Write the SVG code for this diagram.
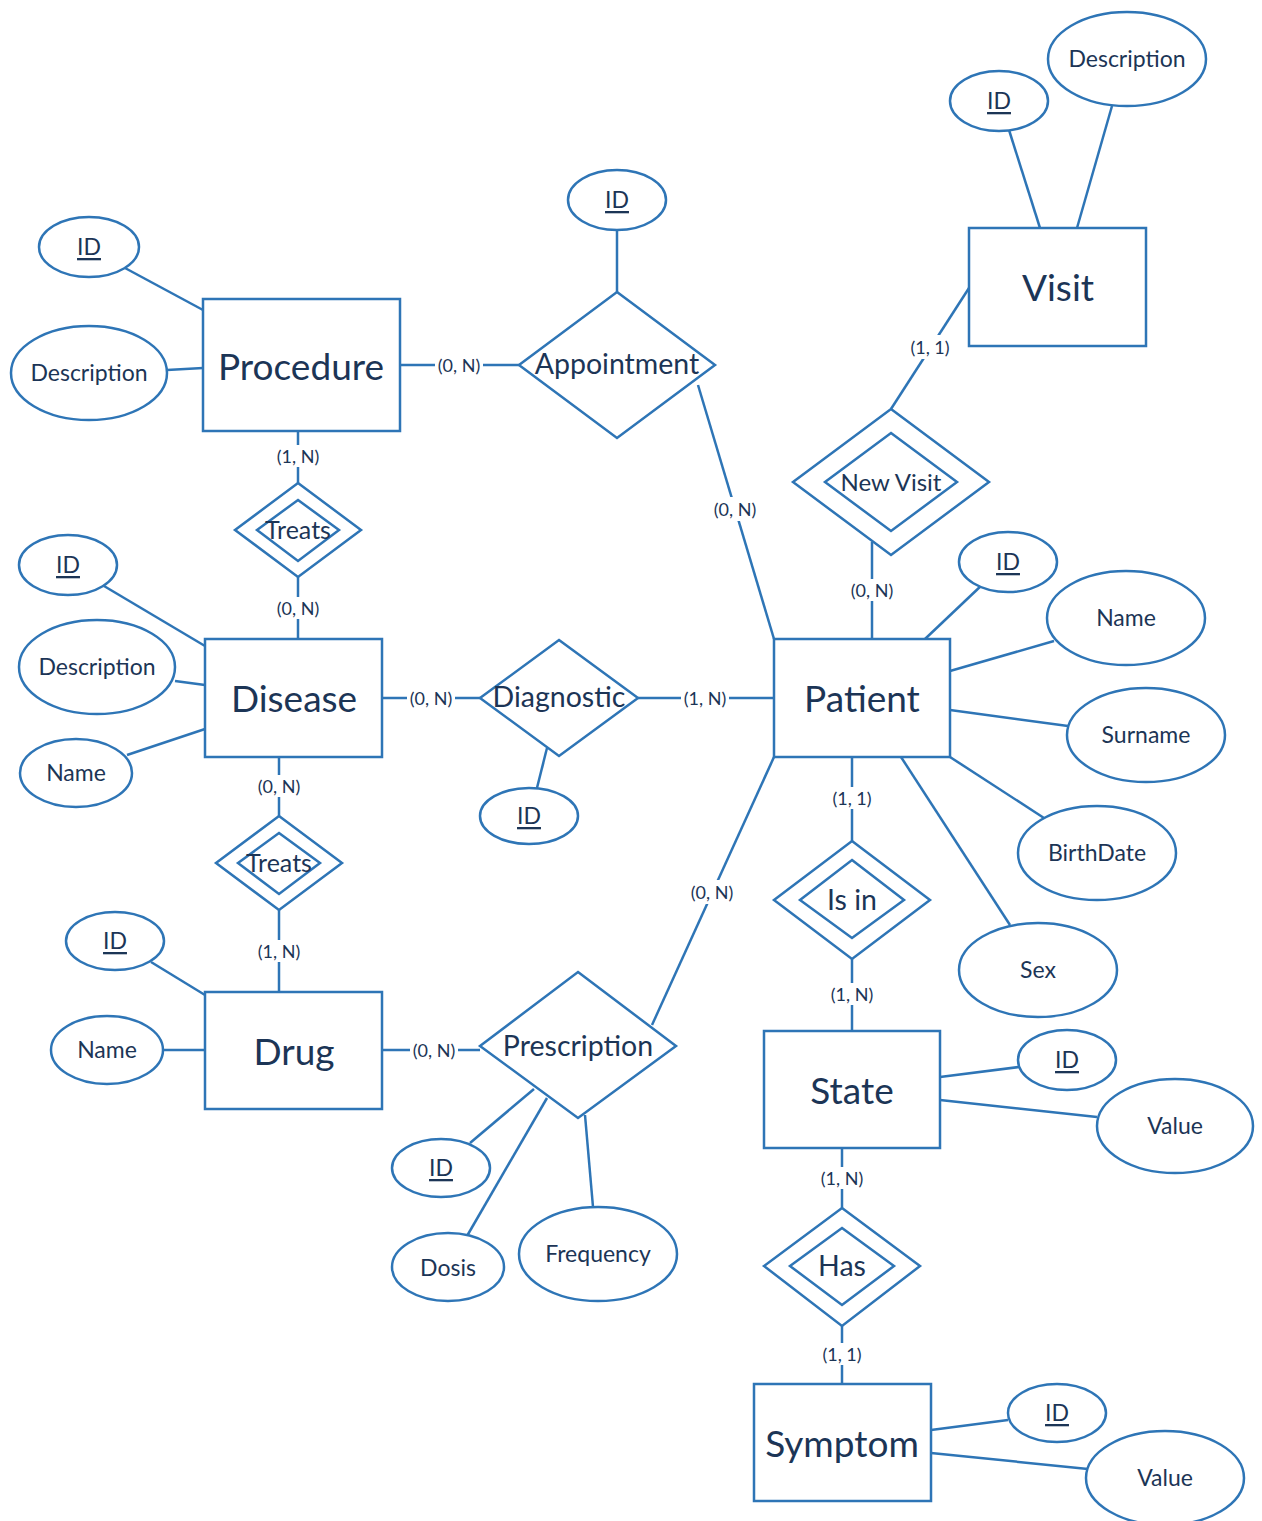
<svg xmlns="http://www.w3.org/2000/svg" width="1262" height="1521" viewBox="0 0 1262 1521">
<style>
.s{fill:#fff;stroke:#2E75B6;stroke-width:2.5}
.n{fill:none;stroke:#2E75B6;stroke-width:2.5}
.c line{stroke:#2E75B6;stroke-width:2.5}
text{font-family:Lato,"Open Sans","Liberation Sans",sans-serif;fill:#1C3556;text-anchor:middle;dominant-baseline:central}
.e{font-size:37px}
.r{font-size:28.5px}
.a{font-size:23px}
.t{font-size:25px}
.u{text-decoration:underline}
.l{font-size:18px}
.bg{fill:#fff}
</style>
<rect width="1262" height="1521" fill="#fff"/>
<g id="connectors" class="c">
<line x1="400" y1="365" x2="519" y2="365"/>
<line x1="698" y1="385" x2="774" y2="639"/>
<line x1="298" y1="431" x2="298" y2="483"/>
<line x1="298" y1="577" x2="298" y2="639"/>
<line x1="382" y1="698" x2="480" y2="698"/>
<line x1="638" y1="698" x2="774" y2="698"/>
<line x1="279" y1="757" x2="279" y2="816"/>
<line x1="279" y1="910" x2="279" y2="992"/>
<line x1="382" y1="1050" x2="480" y2="1050"/>
<line x1="652" y1="1025" x2="774" y2="757"/>
<line x1="969" y1="288" x2="891" y2="409"/>
<line x1="872" y1="542" x2="872" y2="639"/>
<line x1="852" y1="757" x2="852" y2="841"/>
<line x1="852" y1="959" x2="852" y2="1031"/>
<line x1="842" y1="1148" x2="842" y2="1208"/>
<line x1="842" y1="1326" x2="842" y2="1384"/>
<line x1="125" y1="268" x2="203" y2="310"/>
<line x1="167" y1="370" x2="203" y2="368"/>
<line x1="617" y1="230" x2="617" y2="292"/>
<line x1="1009" y1="130" x2="1040" y2="228"/>
<line x1="1112" y1="106" x2="1077" y2="228"/>
<line x1="104" y1="586" x2="205" y2="646"/>
<line x1="175" y1="681" x2="205" y2="685"/>
<line x1="127" y1="755" x2="205" y2="729"/>
<line x1="547" y1="748" x2="537" y2="788"/>
<line x1="983" y1="584" x2="925" y2="639"/>
<line x1="1054" y1="641" x2="950" y2="671"/>
<line x1="1068" y1="726" x2="950" y2="710"/>
<line x1="1044" y1="818" x2="950" y2="757"/>
<line x1="1010" y1="925" x2="901" y2="757"/>
<line x1="151" y1="962" x2="205" y2="995"/>
<line x1="163" y1="1050" x2="205" y2="1050"/>
<line x1="470" y1="1143" x2="534" y2="1089"/>
<line x1="467" y1="1236" x2="547" y2="1098"/>
<line x1="593" y1="1207" x2="585" y2="1115"/>
<line x1="940" y1="1077" x2="1019" y2="1067"/>
<line x1="940" y1="1100" x2="1097" y2="1117"/>
<line x1="931" y1="1430" x2="1008" y2="1420"/>
<line x1="931" y1="1453" x2="1088" y2="1469"/>
</g>
<g id="cardinalities">
<rect class="bg" x="435" y="354" width="48" height="22"/><text class="l" x="459" y="365">(0, N)</text>
<rect class="bg" x="710" y="497" width="50" height="24"/><text class="l" x="735" y="509">(0, N)</text>
<rect class="bg" x="274" y="445" width="48" height="22"/><text class="l" x="298" y="456">(1, N)</text>
<rect class="bg" x="274" y="597" width="48" height="22"/><text class="l" x="298" y="608">(0, N)</text>
<rect class="bg" x="407" y="687" width="48" height="22"/><text class="l" x="431" y="698">(0, N)</text>
<rect class="bg" x="681" y="687" width="48" height="22"/><text class="l" x="705" y="698">(1, N)</text>
<rect class="bg" x="255" y="775" width="48" height="22"/><text class="l" x="279" y="786">(0, N)</text>
<rect class="bg" x="255" y="940" width="48" height="22"/><text class="l" x="279" y="951">(1, N)</text>
<rect class="bg" x="410" y="1039" width="48" height="22"/><text class="l" x="434" y="1050">(0, N)</text>
<rect class="bg" x="687" y="880" width="50" height="24"/><text class="l" x="712" y="892">(0, N)</text>
<rect class="bg" x="905" y="335" width="50" height="24"/><text class="l" x="930" y="347">(1, 1)</text>
<rect class="bg" x="848" y="579" width="48" height="22"/><text class="l" x="872" y="590">(0, N)</text>
<rect class="bg" x="828" y="787" width="48" height="22"/><text class="l" x="852" y="798">(1, 1)</text>
<rect class="bg" x="828" y="983" width="48" height="22"/><text class="l" x="852" y="994">(1, N)</text>
<rect class="bg" x="818" y="1167" width="48" height="22"/><text class="l" x="842" y="1178">(1, N)</text>
<rect class="bg" x="818" y="1343" width="48" height="22"/><text class="l" x="842" y="1354">(1, 1)</text>
</g>
<g id="procedure"><rect class="s" x="203" y="299" width="197" height="132"/><text class="e" x="301" y="365">Procedure</text></g>
<g id="visit"><rect class="s" x="969" y="228" width="177" height="118"/><text class="e" x="1058" y="286">Visit</text></g>
<g id="disease"><rect class="s" x="205" y="639" width="177" height="118"/><text class="e" x="294" y="697">Disease</text></g>
<g id="patient"><rect class="s" x="774" y="639" width="176" height="118"/><text class="e" x="862" y="697">Patient</text></g>
<g id="drug"><rect class="s" x="205" y="992" width="177" height="117"/><text class="e" x="294" y="1050">Drug</text></g>
<g id="state"><rect class="s" x="764" y="1031" width="176" height="117"/><text class="e" x="852" y="1089">State</text></g>
<g id="symptom"><rect class="s" x="754" y="1384" width="177" height="117"/><text class="e" x="842" y="1442">Symptom</text></g>
<g id="appointment"><polygon class="s" points="617,292 715,365 617,438 519,365"/><text class="r" x="617" y="363">Appointment</text></g>
<g id="diagnostic"><polygon class="s" points="559,640 638,698 559,756 480,698"/><text class="r" x="559" y="696">Diagnostic</text></g>
<g id="prescription"><polygon class="s" points="578,972 676,1046 578,1118 480,1046"/><text class="r" x="578" y="1045">Prescription</text></g>
<g id="treats1"><polygon class="s" points="298,483 361,530 298,577 235,530"/><polygon class="n" points="298,500 339,530 298,561 257,530"/><text class="t" x="298" y="529">Treats</text></g>
<g id="treats2"><polygon class="s" points="279,816 342,863 279,910 216,863"/><polygon class="n" points="279,833 320,863 279,894 238,863"/><text class="t" x="279" y="862">Treats</text></g>
<g id="newvisit"><polygon class="s" points="891,409 989,482 891,555 793,482"/><polygon class="n" points="891,433 957,482 891,531 825,482"/><text class="a" x="891" y="481" style="font-size:24px">New Visit</text></g>
<g id="isin"><polygon class="s" points="852,841 930,900 852,959 774,900"/><polygon class="n" points="852,860 904,900 852,938 800,900"/><text class="r" x="852" y="899">Is in</text></g>
<g id="has"><polygon class="s" points="842,1208 920,1266 842,1326 764,1266"/><polygon class="n" points="842,1228 894,1266 842,1305 790,1266"/><text class="r" x="842" y="1265">Has</text></g>
<g id="procedure-id"><ellipse class="s" cx="89" cy="247" rx="50" ry="30"/><text class="a u" x="89" y="246">ID</text></g>
<g id="procedure-description"><ellipse class="s" cx="89" cy="373" rx="78" ry="47"/><text class="a" x="89" y="372">Description</text></g>
<g id="appointment-id"><ellipse class="s" cx="617" cy="200" rx="49" ry="30"/><text class="a u" x="617" y="199">ID</text></g>
<g id="visit-id"><ellipse class="s" cx="999" cy="101" rx="49" ry="30"/><text class="a u" x="999" y="100">ID</text></g>
<g id="visit-description"><ellipse class="s" cx="1127" cy="59" rx="79" ry="47"/><text class="a" x="1127" y="58">Description</text></g>
<g id="disease-id"><ellipse class="s" cx="68" cy="565" rx="49" ry="30"/><text class="a u" x="68" y="564">ID</text></g>
<g id="disease-description"><ellipse class="s" cx="97" cy="667" rx="78" ry="47"/><text class="a" x="97" y="666">Description</text></g>
<g id="disease-name"><ellipse class="s" cx="76" cy="773" rx="56" ry="34"/><text class="a" x="76" y="772">Name</text></g>
<g id="diagnostic-id"><ellipse class="s" cx="529" cy="816" rx="49" ry="28"/><text class="a u" x="529" y="815">ID</text></g>
<g id="patient-id"><ellipse class="s" cx="1008" cy="562" rx="49" ry="30"/><text class="a u" x="1008" y="561">ID</text></g>
<g id="patient-name"><ellipse class="s" cx="1126" cy="618" rx="79" ry="47"/><text class="a" x="1126" y="617">Name</text></g>
<g id="patient-surname"><ellipse class="s" cx="1146" cy="735" rx="79" ry="47"/><text class="a" x="1146" y="734">Surname</text></g>
<g id="patient-birthdate"><ellipse class="s" cx="1097" cy="853" rx="79" ry="47"/><text class="a" x="1097" y="852">BirthDate</text></g>
<g id="patient-sex"><ellipse class="s" cx="1038" cy="970" rx="79" ry="47"/><text class="a" x="1038" y="969">Sex</text></g>
<g id="drug-id"><ellipse class="s" cx="115" cy="941" rx="49" ry="29"/><text class="a u" x="115" y="940">ID</text></g>
<g id="drug-name"><ellipse class="s" cx="107" cy="1050" rx="56" ry="34"/><text class="a" x="107" y="1049">Name</text></g>
<g id="prescription-id"><ellipse class="s" cx="441" cy="1168" rx="49" ry="29"/><text class="a u" x="441" y="1167">ID</text></g>
<g id="prescription-dosis"><ellipse class="s" cx="448" cy="1267" rx="56" ry="34"/><text class="a" x="448" y="1267">Dosis</text></g>
<g id="prescription-frequency"><ellipse class="s" cx="598" cy="1254" rx="79" ry="47"/><text class="a" x="598" y="1253">Frequency</text></g>
<g id="state-id"><ellipse class="s" cx="1067" cy="1060" rx="49" ry="30"/><text class="a u" x="1067" y="1059">ID</text></g>
<g id="state-value"><ellipse class="s" cx="1175" cy="1126" rx="78" ry="47"/><text class="a" x="1175" y="1125">Value</text></g>
<g id="symptom-id"><ellipse class="s" cx="1057" cy="1413" rx="49" ry="29"/><text class="a u" x="1057" y="1412">ID</text></g>
<g id="symptom-value"><ellipse class="s" cx="1165" cy="1478" rx="79" ry="47"/><text class="a" x="1165" y="1477">Value</text></g>
</svg>
